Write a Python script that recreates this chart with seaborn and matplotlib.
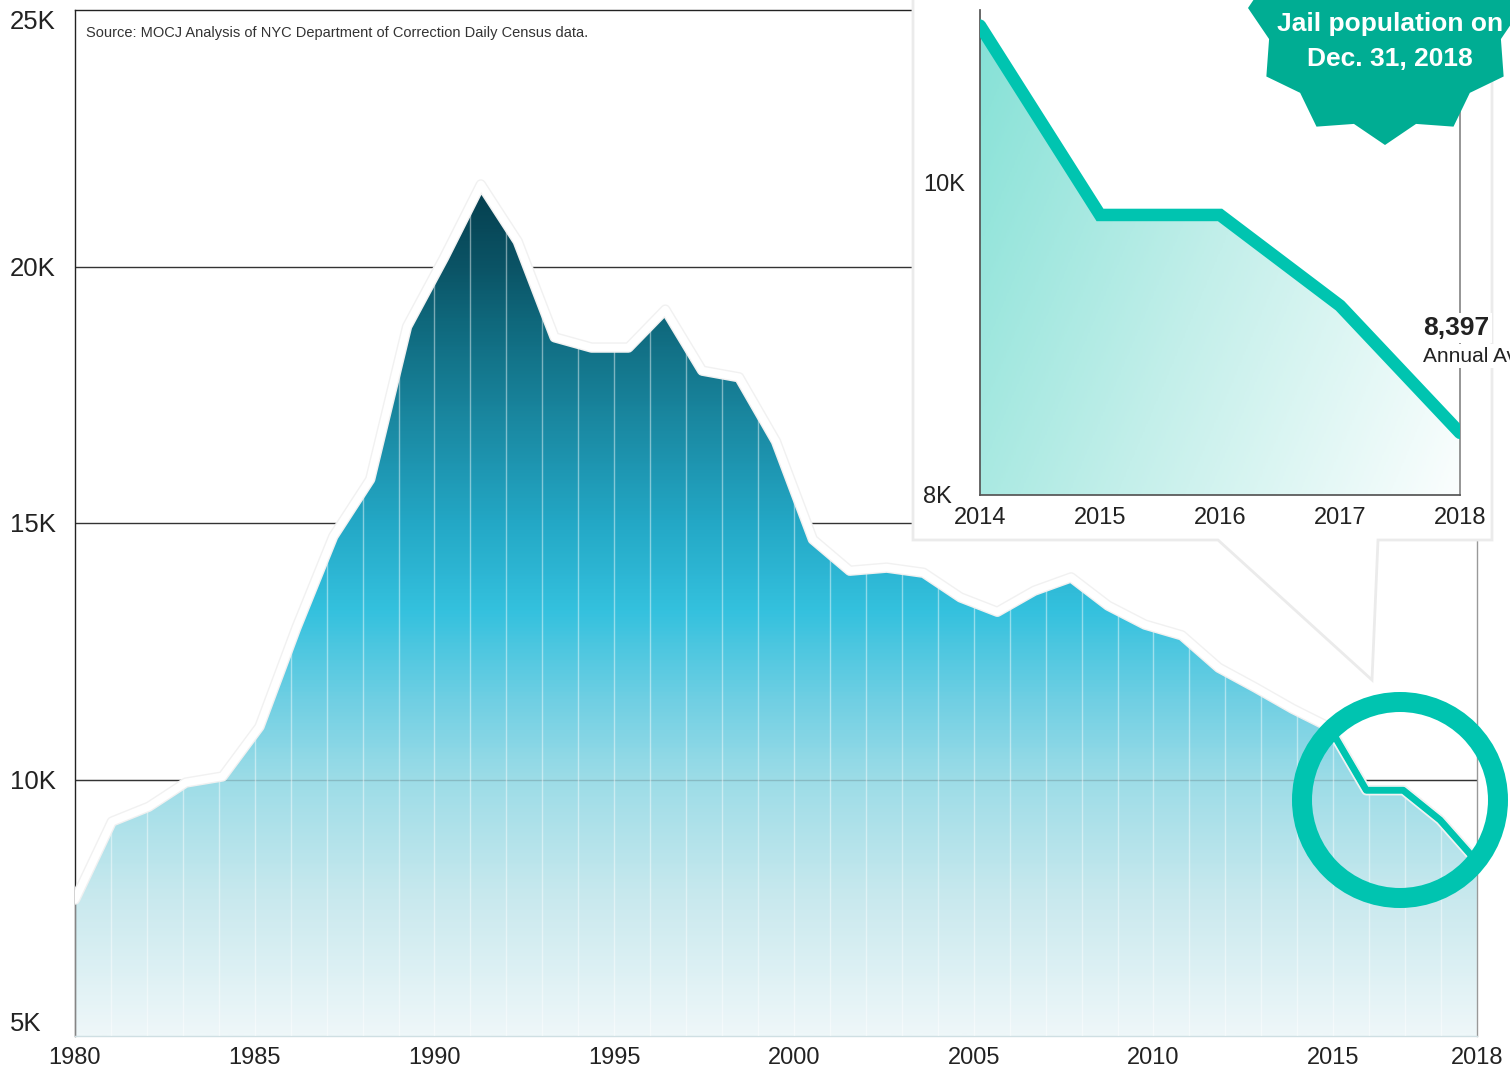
import numpy as np
import matplotlib
matplotlib.use("Agg")
import matplotlib.pyplot as plt
import matplotlib.patheffects as pe
from matplotlib.colors import LinearSegmentedColormap
from matplotlib.patches import Polygon, Circle
from matplotlib.transforms import IdentityTransform
import seaborn as sns

# --- data ---
years = np.arange(1980, 2019)
population = [7660, 9180, 9470, 9940, 10060, 11030, 12960, 14740, 15850, 18830,
              20170, 21600, 20490, 18620, 18420, 18420, 19160, 17970, 17840, 16590,
              14680, 14070, 14130, 14030, 13550, 13270, 13680, 13940, 13390, 13020,
              12810, 12180, 11790, 11380, 11020, 9790, 9790, 9210, 8397]
tick_labels = ["1980", "1985", "1990", "1995", "2000", "2005", "2010", "2015", "2018"]
y_ticks = [5000, 10000, 15000, 20000, 25000]
y_labels = ["5K", "10K", "15K", "20K", "25K"]

inset_years = [2014, 2015, 2016, 2017, 2018]
inset_values = [11000, 9790, 9790, 9210, 8397]
inset_yticks = [8000, 10000]
inset_ylabels = ["8K", "10K"]

W, H = 1510, 1070
TEAL = "#00c4b0"

sns.set_theme(style="white")
plt.rcParams["font.family"] = ["Liberation Sans", "DejaVu Sans"]

fig = plt.figure(figsize=(W / 100, H / 100), dpi=100)
T = IdentityTransform()


def px(x, y):
    # image coords (origin top-left) -> display pixels
    return x, H - y


# ---------------- main chart ----------------
ax = fig.add_axes([75 / W, (H - 1036) / H, 1402 / W, 1026 / H])
ax.set_zorder(0)
ax.set_xlim(years[0], years[-1])
ax.set_ylim(5000, 25000)

for v in [10000, 15000, 20000]:
    ax.axhline(v, color="#333333", lw=1, zorder=1)

# gradient area under the curve
fill = ax.fill_between(years, population, 5000, color="none", lw=0)
stops = [(5000, "#eef7f9"), (7650, "#c9e9ee"), (10000, "#9cdce7"), (11550, "#6fcfe3"),
         (13300, "#34c1de"), (15050, "#23a7c5"), (17000, "#1a88a1"), (18950, "#0f687c"),
         (20000, "#0b5466"), (21600, "#053e4e")]
cmap = LinearSegmentedColormap.from_list(
    "jail", [((v - 5000) / 16600, c) for v, c in stops])
grad = np.linspace(5000, 25000, 600)[:, None]
im = ax.imshow(grad, extent=[years[0], years[-1], 5000, 25000], origin="lower",
               aspect="auto", cmap=cmap, vmin=5000, vmax=21600, zorder=2)
clip = fill.get_paths()[0]
im.set_clip_path(clip, transform=ax.transData)

# faint 10K line showing through the light part of the area
ax.axhline(10000, color="#333333", alpha=0.2, lw=1, zorder=3)

# thin white year lines inside the area
n_slots = 39
grid_x = years[0] + np.arange(n_slots + 1) * (years[-1] - years[0]) / n_slots
vl = ax.vlines(grid_x, 5000, 25000, colors="white", alpha=0.45, lw=1, zorder=3)
vl.set_clip_path(clip, transform=ax.transData)

sns.lineplot(x=years, y=population, ax=ax, color="white", lw=5.5, zorder=4,
             path_effects=[pe.Stroke(linewidth=7.5, foreground="#f1f1f1"), pe.Normal()])
sns.lineplot(x=years[-5:], y=population[-5:], ax=ax, color=TEAL, lw=5, zorder=5)

tick_idx = [0, 5, 10, 15, 20, 25, 30, 35, 39]
ax.set_xticks(grid_x[tick_idx])
ax.set_xticklabels(tick_labels)
ax.set_yticks(y_ticks)
ax.set_yticklabels(y_labels)
ax.tick_params(axis="both", length=0, colors="#222222")
ax.tick_params(axis="x", pad=8, labelsize=17)
ax.tick_params(axis="y", pad=47, labelsize=18.5)
for lab in ax.get_yticklabels():
    lab.set_ha("left")
    if lab.get_text() == "25K":
        lab.set_va("top")
    elif lab.get_text() == "5K":
        lab.set_va("bottom")
ax.grid(False)
ax.spines["left"].set_color("#222222")
ax.spines["top"].set_color("#222222")
ax.spines["right"].set_color("#999999")
ax.spines["bottom"].set_color("#cfdfe3")
for s in ax.spines.values():
    s.set_linewidth(1)

fig.text(*px(86, 33), "Source: MOCJ Analysis of NYC Department of Correction Daily Census data.",
         transform=T, fontsize=10.5, color="#333333", va="center", ha="left")

# ---------------- inset call-out box ----------------
box_pts = [px(913, -20), px(1492, -20), px(1492, 540), px(1378, 540),
           px(1372, 680), px(1218, 540), px(913, 540)]
box = Polygon(box_pts, closed=True, transform=T, facecolor="white",
              edgecolor="#ebebeb", lw=2, zorder=1)
fig.add_artist(box)

ins = fig.add_axes([980 / W, (H - 495) / H, 480 / W, 485 / H])
ins.set_zorder(2)
ins.patch.set_alpha(0)
ins.set_xlim(2014, 2018)
ins.set_ylim(8000, 11100)

ifill = ins.fill_between(inset_years, inset_values, 8000, color="none", lw=0)
gx, gy = np.meshgrid(np.linspace(0, 1, 300), np.linspace(0, 1, 300))
tval = 0.7 * gx + 0.3 * (1 - gy)
icmap = LinearSegmentedColormap.from_list("inset", ["#84e1d6", "#c3efea", "#fbfefe"])
iim = ins.imshow(tval, extent=[2014, 2018, 8000, 11100], origin="lower",
                 aspect="auto", cmap=icmap, vmin=0, vmax=1, zorder=1)
iim.set_clip_path(ifill.get_paths()[0], transform=ins.transData)

sns.lineplot(x=inset_years, y=inset_values, ax=ins, color=TEAL, lw=9, zorder=3,
             solid_capstyle="round", solid_joinstyle="miter")

ins.set_xticks(inset_years)
ins.set_xticklabels([str(y) for y in inset_years])
ins.set_yticks(inset_yticks)
ins.set_yticklabels(inset_ylabels)
ins.tick_params(axis="both", length=0, labelsize=17, colors="#222222")
ins.tick_params(axis="x", pad=9)
ins.tick_params(axis="y", pad=41)
for lab in ins.get_yticklabels():
    lab.set_ha("left")
ins.grid(False)
ins.spines["top"].set_visible(False)
ins.spines["left"].set_color("#555555")
ins.spines["bottom"].set_color("#555555")
ins.spines["right"].set_color("#888888")

fig.text(*px(1423, 328), "8,397", transform=T, fontsize=19, fontweight="bold",
         color="#222222", va="center", ha="left", zorder=6,
         bbox=dict(facecolor="white", edgecolor="none", pad=2))
fig.text(*px(1423, 356), "Annual Average", transform=T, fontsize=15,
         color="#222222", va="center", ha="left", zorder=6,
         bbox=dict(facecolor="white", edgecolor="none", pad=2))

# ---------------- badge ----------------
cx, cy = px(1385, 8)
ang = np.deg2rad(-90 + np.arange(24) * 15)
rad = np.where(np.arange(24) % 2 == 0, 137, 120)
star = np.column_stack([cx + rad * np.cos(ang), cy + rad * np.sin(ang)])
fig.add_artist(Polygon(star, closed=True, transform=T, facecolor="#00ad93",
                       edgecolor="none", zorder=5))
fig.text(*px(1390, 24), "Jail population on", transform=T, fontsize=19,
         fontweight="bold", color="white", ha="center", va="center", zorder=6)
fig.text(*px(1390, 59), "Dec. 31, 2018", transform=T, fontsize=19,
         fontweight="bold", color="white", ha="center", va="center", zorder=6)

# ---------------- highlight ring ----------------
fig.add_artist(Circle(px(1400, 800), 98, transform=T, facecolor="none",
                      edgecolor=TEAL, lw=14.4, zorder=5))

fig.savefig("out.png", dpi=100)
